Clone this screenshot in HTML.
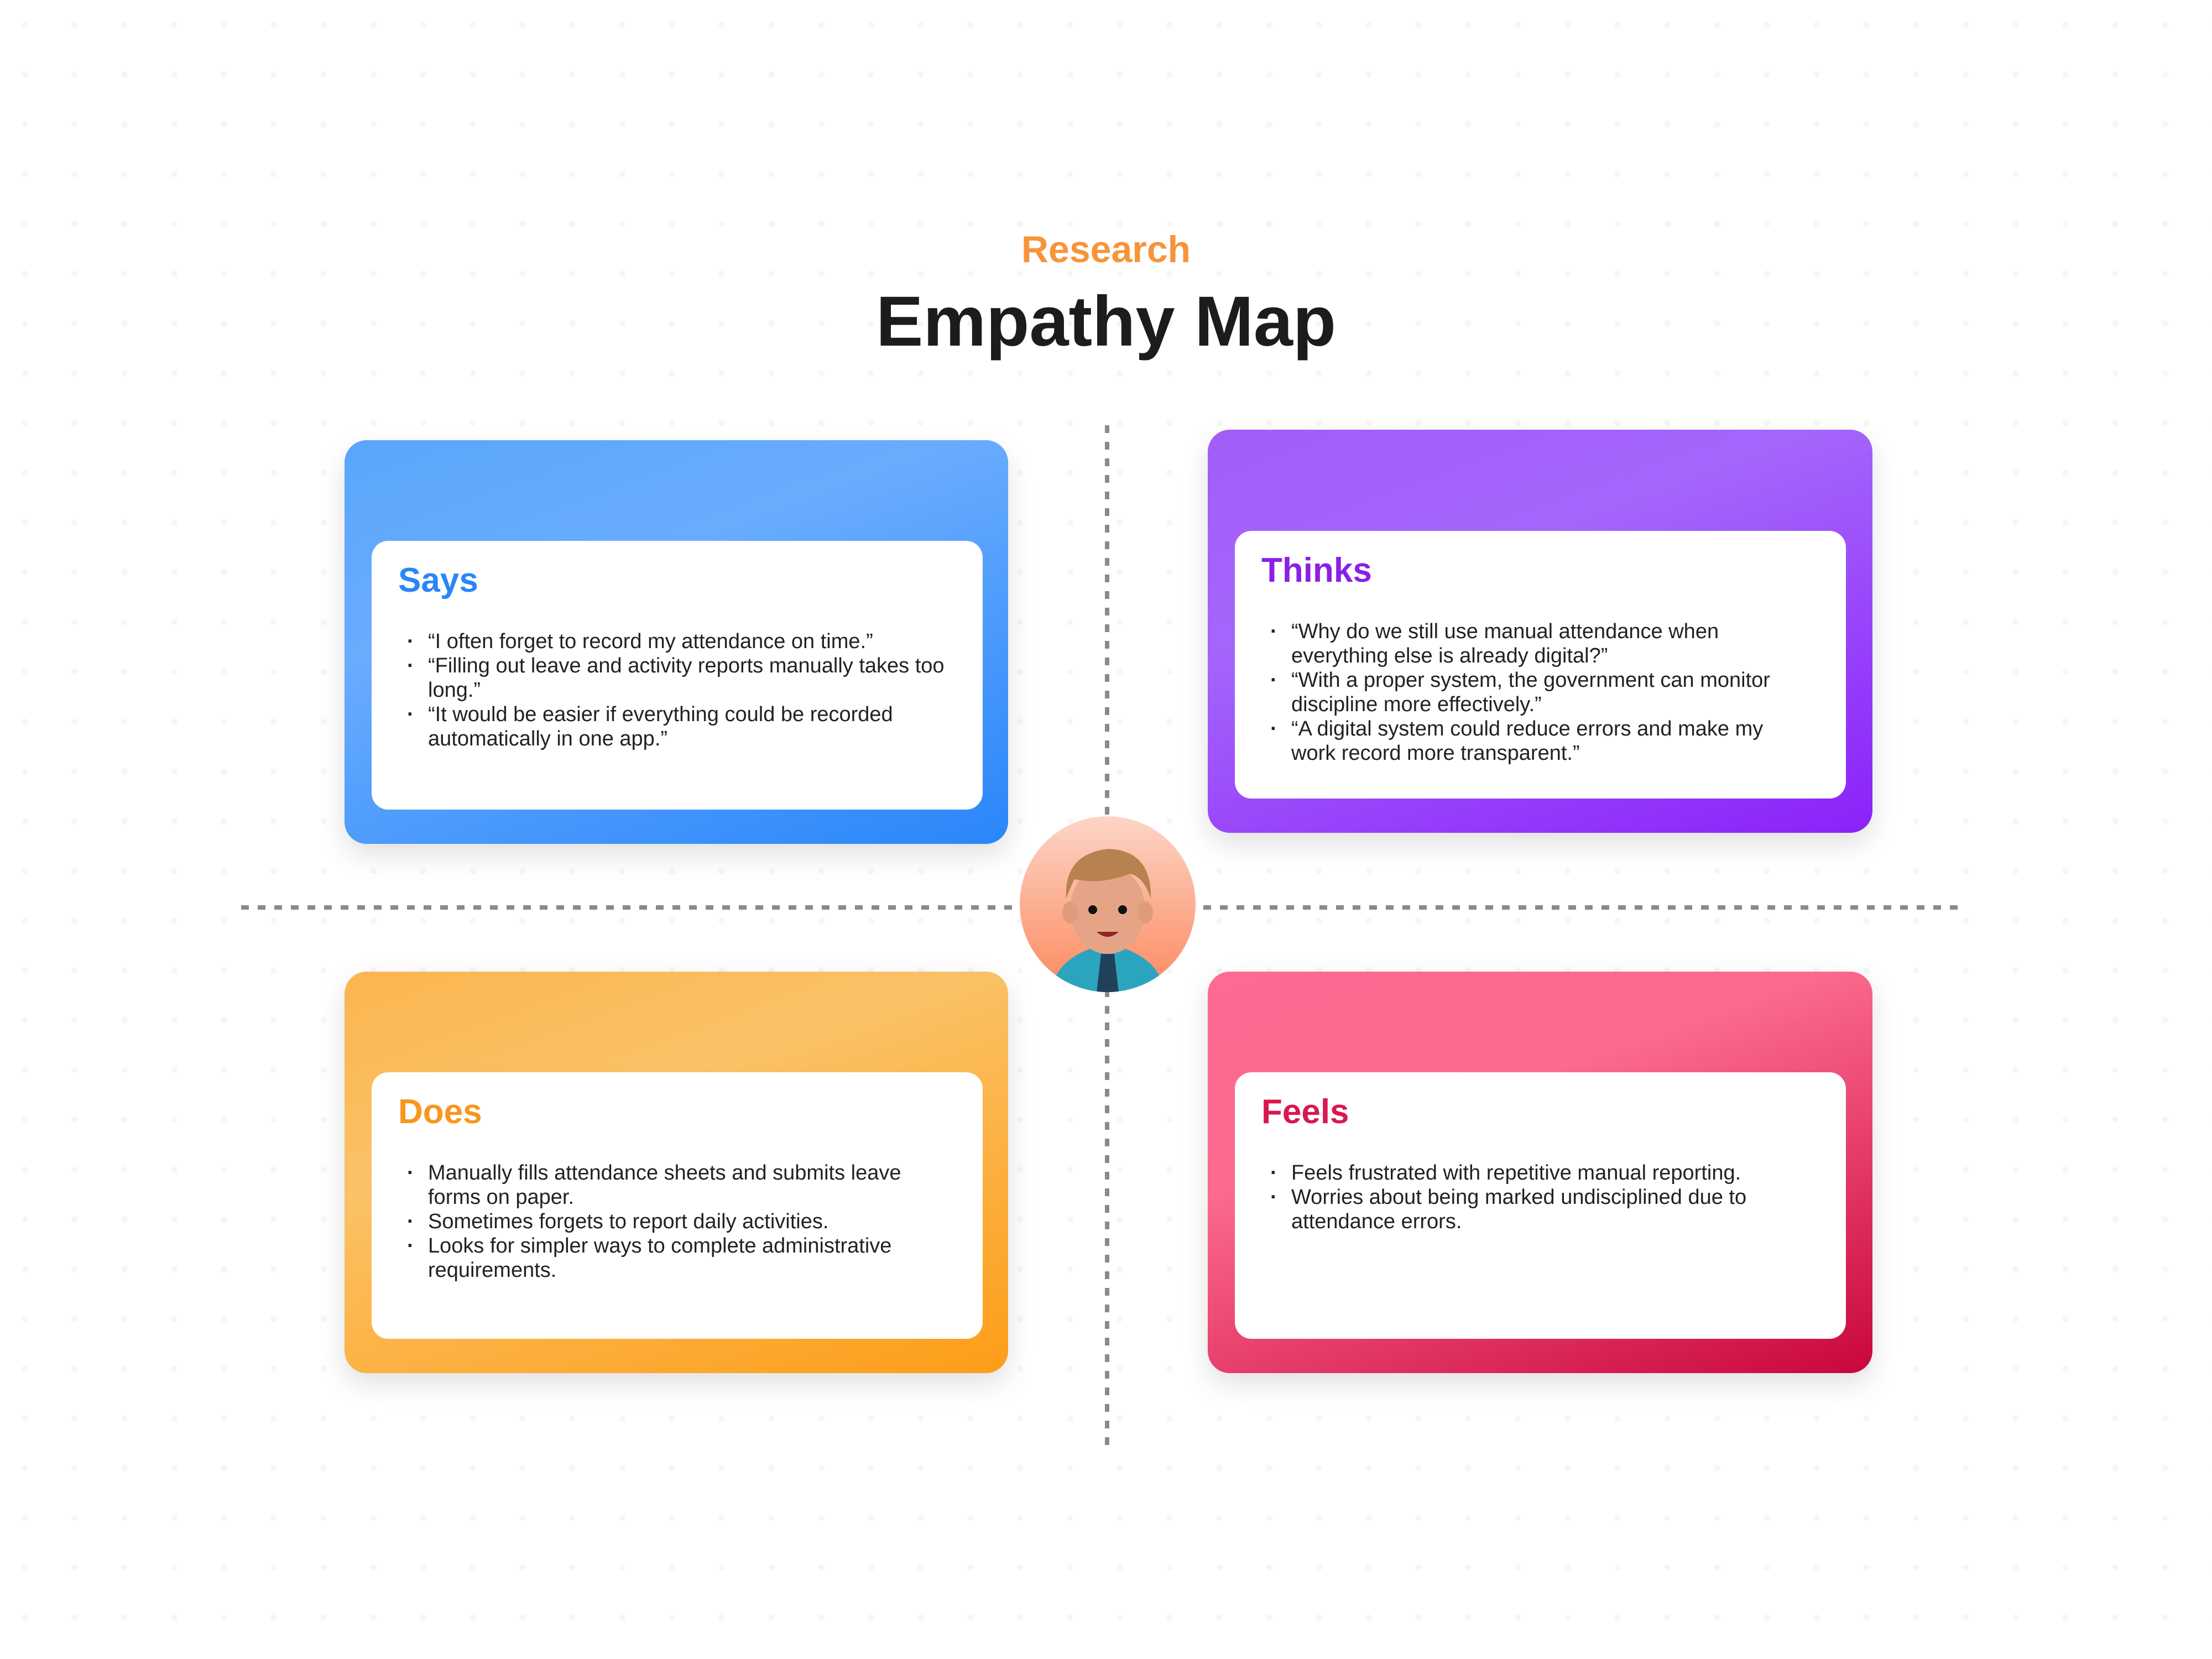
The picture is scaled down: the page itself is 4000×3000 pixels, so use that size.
<!DOCTYPE html>
<html><head><meta charset="utf-8"><style>
body{margin:0;width:4000px;height:3000px;background:#fff;position:relative;overflow:hidden;font-family:"Liberation Sans",sans-serif;}
.bg{position:absolute;inset:0;background-image:radial-gradient(circle,#ececec 5px,transparent 6px);background-size:90px 90px;opacity:.45}
.card{position:absolute;border-radius:40px;box-shadow:0 20px 50px rgba(0,0,0,.12)}
.inner{position:absolute;background:#fff;border-radius:30px;}
.inner h2{margin:0;position:absolute;left:48px;top:36px;font-size:62px;font-weight:bold;}
.inner ul{position:absolute;left:64px;top:160px;right:60px;margin:0;padding:0 0 0 38px;font-size:38px;line-height:44px;color:#222;list-style:none}
.inner li{position:relative}
.inner li:before{content:"·";position:absolute;left:-38px;font-weight:bold}
.dh{position:absolute;height:8px;background:repeating-linear-gradient(90deg,#8a8a8a 0 14px,transparent 14px 30px)}
.dv{position:absolute;width:8px;background:repeating-linear-gradient(180deg,#8a8a8a 0 14px,transparent 14px 30px)}
</style></head><body>
<div class="bg"></div>
<div class="dh" style="left:436px;top:1637px;width:3110px"></div>
<div class="dv" style="left:1998px;top:769px;height:1860px"></div>
<div style="position:absolute;left:0;width:4000px;top:412px;text-align:center;font-size:68px;font-weight:bold;color:#f7943a">Research</div>
<div style="position:absolute;left:0;width:4000px;top:508px;text-align:center;font-size:128px;font-weight:bold;color:#1c1c1c">Empathy Map</div>

<div class="card" style="left:623px;top:796px;width:1200px;height:730px;background:linear-gradient(160deg,#5aa6fb,#69acfe 35%,#2a86fa)"></div>
<div class="inner" style="left:672px;top:978px;width:1105px;height:486px"><h2 style="color:#2a86f6">Says</h2>
<ul><li>“I often forget to record my attendance on time.”</li><li>“Filling out leave and activity reports manually takes too long.”</li><li>“It would be easier if everything could be recorded automatically in one app.”</li></ul></div>

<div class="card" style="left:2184px;top:777px;width:1202px;height:729px;background:linear-gradient(160deg,#a35df8,#a565fb 35%,#8a22f9)"></div>
<div class="inner" style="left:2233px;top:960px;width:1105px;height:484px"><h2 style="color:#8a1fe6">Thinks</h2>
<ul><li>“Why do we still use manual attendance when everything else is already digital?”</li><li>“With a proper system, the government can monitor discipline more effectively.”</li><li>“A digital system could reduce errors and make my work record more transparent.”</li></ul></div>

<div class="card" style="left:623px;top:1757px;width:1200px;height:726px;background:linear-gradient(160deg,#fbb550,#fbc266 35%,#fd9d18)"></div>
<div class="inner" style="left:672px;top:1939px;width:1105px;height:482px"><h2 style="color:#f7971c">Does</h2>
<ul><li>Manually fills attendance sheets and submits leave forms on paper.</li><li>Sometimes forgets to report daily activities.</li><li>Looks for simpler ways to complete administrative requirements.</li></ul></div>

<div class="card" style="left:2184px;top:1757px;width:1202px;height:726px;background:linear-gradient(160deg,#fd6a92,#fc6a8e 35%,#c9063c)"></div>
<div class="inner" style="left:2233px;top:1939px;width:1105px;height:482px"><h2 style="color:#d8194e">Feels</h2>
<ul><li>Feels frustrated with repetitive manual reporting.</li><li>Worries about being marked undisciplined due to attendance errors.</li></ul></div>

<svg style="position:absolute;left:1843px;top:1475px" width="320" height="320" viewBox="0 0 320 320">
<defs><linearGradient id="g" x1="0" y1="0" x2="0" y2="1"><stop offset="0" stop-color="#fdd5c7"/><stop offset="1" stop-color="#fb8a5e"/></linearGradient>
<clipPath id="c"><circle cx="160" cy="160" r="159"/></clipPath></defs>
<circle cx="160" cy="160" r="159" fill="url(#g)"/>
<g clip-path="url(#c)">
<path d="M55 330 Q60 265 130 240 L190 240 Q260 265 265 330Z" fill="#2ba5bf"/>
<path d="M148 250 L172 250 L180 320 L140 320Z" fill="#21415a"/>
<ellipse cx="160" cy="170" rx="68" ry="80" fill="#e6a487"/>
<ellipse cx="92" cy="175" rx="14" ry="20" fill="#e09a7c"/><ellipse cx="228" cy="175" rx="14" ry="20" fill="#e09a7c"/>
<path d="M85 150 Q80 70 160 60 Q240 62 238 150 Q225 110 200 105 Q150 125 100 115 Q92 130 85 150Z" fill="#b78250"/>
<circle cx="133" cy="170" r="8" fill="#111"/><circle cx="187" cy="170" r="8" fill="#111"/>
<path d="M140 210 Q160 228 180 210Z" fill="#8c2626"/>
</g></svg>
</body></html>
